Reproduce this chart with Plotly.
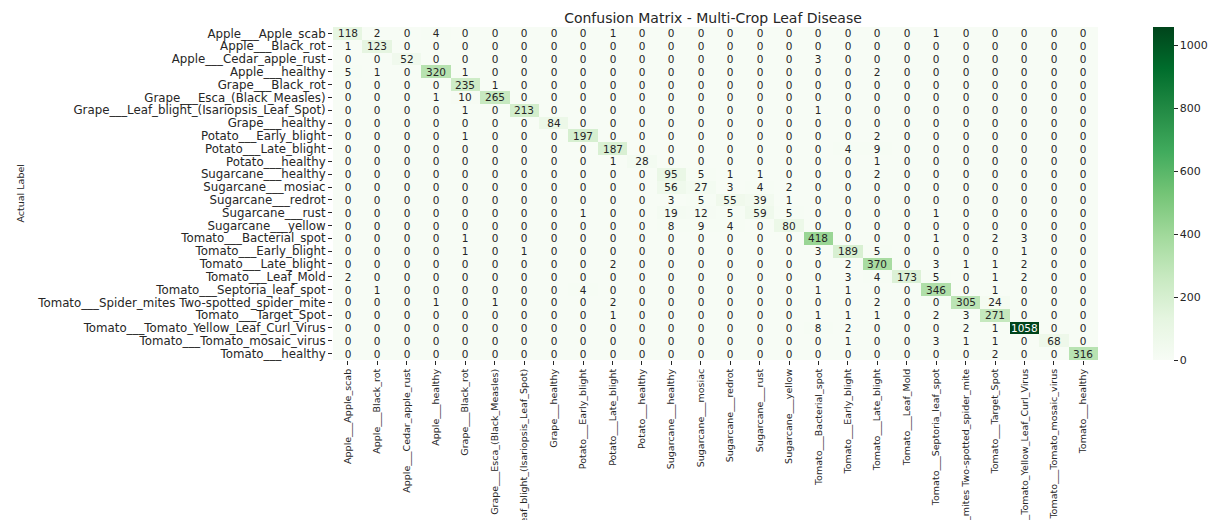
import plotly.graph_objects as go
import plotly.colors as pc

classes = [
    "Apple___Apple_scab", "Apple___Black_rot", "Apple___Cedar_apple_rust", "Apple___healthy",
    "Grape___Black_rot", "Grape___Esca_(Black_Measles)", "Grape___Leaf_blight_(Isariopsis_Leaf_Spot)",
    "Grape___healthy", "Potato___Early_blight", "Potato___Late_blight", "Potato___healthy",
    "Sugarcane___healthy", "Sugarcane___mosiac", "Sugarcane___redrot", "Sugarcane___rust",
    "Sugarcane___yellow", "Tomato___Bacterial_spot", "Tomato___Early_blight", "Tomato___Late_blight",
    "Tomato___Leaf_Mold", "Tomato___Septoria_leaf_spot", "Tomato___Spider_mites Two-spotted_spider_mite",
    "Tomato___Target_Spot", "Tomato___Tomato_Yellow_Leaf_Curl_Virus", "Tomato___Tomato_mosaic_virus",
    "Tomato___healthy",
]

# rows = actual label, columns = predicted label
confusion = [
    [118, 2, 0, 4, 0, 0, 0, 0, 0, 1, 0, 0, 0, 0, 0, 0, 0, 0, 0, 0, 1, 0, 0, 0, 0, 0],
    [1, 123, 0, 0, 0, 0, 0, 0, 0, 0, 0, 0, 0, 0, 0, 0, 0, 0, 0, 0, 0, 0, 0, 0, 0, 0],
    [0, 0, 52, 0, 0, 0, 0, 0, 0, 0, 0, 0, 0, 0, 0, 0, 3, 0, 0, 0, 0, 0, 0, 0, 0, 0],
    [5, 1, 0, 320, 1, 0, 0, 0, 0, 0, 0, 0, 0, 0, 0, 0, 0, 0, 2, 0, 0, 0, 0, 0, 0, 0],
    [0, 0, 0, 0, 235, 1, 0, 0, 0, 0, 0, 0, 0, 0, 0, 0, 0, 0, 0, 0, 0, 0, 0, 0, 0, 0],
    [0, 0, 0, 1, 10, 265, 0, 0, 0, 0, 0, 0, 0, 0, 0, 0, 0, 0, 0, 0, 0, 0, 0, 0, 0, 0],
    [0, 0, 0, 0, 1, 0, 213, 0, 0, 0, 0, 0, 0, 0, 0, 0, 1, 0, 0, 0, 0, 0, 0, 0, 0, 0],
    [0, 0, 0, 0, 0, 0, 0, 84, 0, 0, 0, 0, 0, 0, 0, 0, 0, 0, 0, 0, 0, 0, 0, 0, 0, 0],
    [0, 0, 0, 0, 1, 0, 0, 0, 197, 0, 0, 0, 0, 0, 0, 0, 0, 0, 2, 0, 0, 0, 0, 0, 0, 0],
    [0, 0, 0, 0, 0, 0, 0, 0, 0, 187, 0, 0, 0, 0, 0, 0, 0, 4, 9, 0, 0, 0, 0, 0, 0, 0],
    [0, 0, 0, 0, 0, 0, 0, 0, 0, 1, 28, 0, 0, 0, 0, 0, 0, 0, 1, 0, 0, 0, 0, 0, 0, 0],
    [0, 0, 0, 0, 0, 0, 0, 0, 0, 0, 0, 95, 5, 1, 1, 0, 0, 0, 2, 0, 0, 0, 0, 0, 0, 0],
    [0, 0, 0, 0, 0, 0, 0, 0, 0, 0, 0, 56, 27, 3, 4, 2, 0, 0, 0, 0, 0, 0, 0, 0, 0, 0],
    [0, 0, 0, 0, 0, 0, 0, 0, 0, 0, 0, 3, 5, 55, 39, 1, 0, 0, 0, 0, 0, 0, 0, 0, 0, 0],
    [0, 0, 0, 0, 0, 0, 0, 0, 1, 0, 0, 19, 12, 5, 59, 5, 0, 0, 0, 0, 1, 0, 0, 0, 0, 0],
    [0, 0, 0, 0, 0, 0, 0, 0, 0, 0, 0, 8, 9, 4, 0, 80, 0, 0, 0, 0, 0, 0, 0, 0, 0, 0],
    [0, 0, 0, 0, 1, 0, 0, 0, 0, 0, 0, 0, 0, 0, 0, 0, 418, 0, 0, 0, 1, 0, 2, 3, 0, 0],
    [0, 0, 0, 0, 1, 0, 1, 0, 0, 0, 0, 0, 0, 0, 0, 0, 3, 189, 5, 0, 0, 0, 0, 1, 0, 0],
    [0, 0, 0, 0, 0, 0, 0, 0, 0, 2, 0, 0, 0, 0, 0, 0, 0, 2, 370, 0, 3, 1, 1, 2, 0, 0],
    [2, 0, 0, 0, 0, 0, 0, 0, 0, 0, 0, 0, 0, 0, 0, 0, 0, 3, 4, 173, 5, 0, 1, 2, 0, 0],
    [0, 1, 0, 0, 0, 0, 0, 0, 4, 0, 0, 0, 0, 0, 0, 0, 1, 1, 0, 0, 346, 0, 1, 0, 0, 0],
    [0, 0, 0, 1, 0, 1, 0, 0, 0, 2, 0, 0, 0, 0, 0, 0, 0, 0, 2, 0, 0, 305, 24, 0, 0, 0],
    [0, 0, 0, 0, 0, 0, 0, 0, 0, 1, 0, 0, 0, 0, 0, 0, 1, 1, 1, 0, 2, 3, 271, 0, 0, 0],
    [0, 0, 0, 0, 0, 0, 0, 0, 0, 0, 0, 0, 0, 0, 0, 0, 8, 2, 0, 0, 0, 2, 1, 1058, 0, 0],
    [0, 0, 0, 0, 0, 0, 0, 0, 0, 0, 0, 0, 0, 0, 0, 0, 0, 1, 0, 0, 3, 1, 1, 0, 68, 0],
    [0, 0, 0, 0, 0, 0, 0, 0, 0, 0, 0, 0, 0, 0, 0, 0, 0, 0, 0, 0, 0, 0, 2, 0, 0, 316],
]

colorbar_ticks = [0, 200, 400, 600, 800, 1000]

FONT = "DejaVu Sans"
DARK = "#262626"
W, H = 1208, 520
ML, MR, MT, MB = 333, 110, 27, 160

zmax = max(max(r) for r in confusion)
light_cut = 0.6 * zmax

# dark text on light cells, white text added separately on dark cells
cell_text = [[str(v) if v < light_cut else "" for v in row] for row in confusion]

greens = [[i / (len(pc.sequential.Greens) - 1), c] for i, c in enumerate(pc.sequential.Greens)]

fig = go.Figure(
    go.Heatmap(
        z=confusion,
        x=classes,
        y=classes,
        zmin=0,
        zmax=zmax,
        colorscale=greens,
        text=cell_text,
        texttemplate="%{text}",
        textfont=dict(family=FONT, size=10.5, color=DARK),
        hoverinfo="skip",
        colorbar=dict(
            thicknessmode="pixels", thickness=21,
            lenmode="pixels", len=333,
            x=(1143 - ML) / (W - ML - MR), xanchor="left",
            y=1.0, yanchor="top", ypad=0,
            outlinewidth=0,
            tickvals=colorbar_ticks,
            ticks="outside", ticklen=4, tickcolor=DARK,
            tickfont=dict(family=FONT, size=11, color=DARK),
        ),
    )
)

annotations = []
for i, row in enumerate(confusion):
    for j, v in enumerate(row):
        if v >= light_cut:
            annotations.append(dict(
                x=classes[j], y=classes[i], text=str(v), showarrow=False,
                font=dict(family=FONT, size=10.5, color="white"),
            ))

annotations.append(dict(
    xref="paper", yref="paper",
    x=(20 - ML) / (W - ML - MR), y=0.5,
    text="Actual Label", textangle=-90, showarrow=False,
    xanchor="center", yanchor="middle",
    font=dict(family=FONT, size=9.5, color=DARK),
))

axis_common = dict(
    type="category", tickmode="array", tickvals=classes, ticktext=classes,
    ticks="outside", ticklen=4, tickcolor=DARK,
    showgrid=False, zeroline=False, automargin=False,
)

fig.update_layout(
    width=W, height=H,
    margin=dict(l=ML, r=MR, t=MT, b=MB, autoexpand=False),
    paper_bgcolor="white", plot_bgcolor="white",
    title=dict(
        text="Confusion Matrix - Multi-Crop Leaf Disease",
        x=713 / W, xanchor="center", y=1 - 18 / H, yanchor="middle",
        font=dict(family=FONT, size=14, color=DARK),
    ),
    annotations=annotations,
    xaxis=dict(axis_common, tickangle=-90,
               tickfont=dict(family=FONT, size=9.5, color=DARK)),
    yaxis=dict(axis_common, autorange="reversed",
               tickfont=dict(family=FONT, size=11.8, color=DARK)),
)

fig.write_html("out.html")
